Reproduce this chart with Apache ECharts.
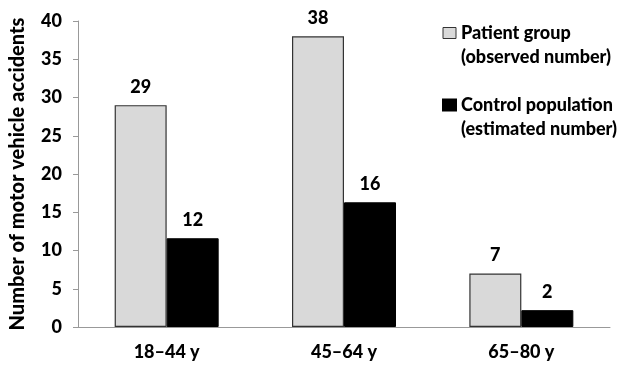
<!DOCTYPE html>
<html><head><meta charset="utf-8">
<script src="https://cdn.jsdelivr.net/npm/echarts@6/dist/echarts.min.js"></script>
<style>html,body{margin:0;padding:0;background:#fff}#c{width:631px;height:369px}</style>
</head><body><div id="c"></div>
<script>
var categories = ['18\u201344 y', '45\u201364 y', '65\u201380 y'];
var seriesNames = ['Patient group\n(observed number)', 'Control population\n(estimated number)'];
var patientValues = [29, 38, 7];
var controlValues = [11.6, 16.3, 2.2];
var yTicks = {min: 0, max: 40, interval: 5};
var FONT = 'Lato';
var W = 900;
var chart = echarts.init(document.getElementById('c'));
chart.setOption({
  animation: false,
  textStyle: {fontFamily: FONT},
  grid: {left: 75, right: 21, top: 21, bottom: 42},
  legend: {
    orient: 'vertical', left: 442, top: -3, itemGap: 0, padding: 0,
    itemWidth: 13, itemHeight: 11, icon: 'rect',
    formatter: function (name) { return '\n' + name; },
    textStyle: {fontFamily: FONT, fontWeight: W, fontSize: 18, color: '#000', lineHeight: 24},
    data: [
      {name: seriesNames[0], itemStyle: {color: '#d9d9d9', borderColor: '#333', borderWidth: 1}},
      {name: seriesNames[1], itemStyle: {color: '#000'}}
    ]
  },
  xAxis: {
    type: 'category', data: categories,
    axisLine: {lineStyle: {color: '#999', width: 1}},
    axisTick: {length: 7, lineStyle: {color: '#999'}},
    axisLabel: {color: '#000', fontWeight: W, fontSize: 18, fontFamily: FONT, margin: 16}
  },
  yAxis: {
    type: 'value', min: yTicks.min, max: yTicks.max, interval: yTicks.interval,
    name: 'Number of motor vehicle accidents', nameLocation: 'middle', nameGap: 50,
    nameTextStyle: {color: '#000', fontWeight: W, fontSize: 20, fontFamily: FONT},
    splitLine: {show: false},
    axisLine: {show: true, lineStyle: {color: '#999', width: 1}},
    axisTick: {show: true, length: 5, lineStyle: {color: '#999'}},
    axisLabel: {color: '#000', fontWeight: W, fontSize: 18, fontFamily: FONT, margin: 16}
  },
  series: [
    {name: seriesNames[0], type: 'bar', data: patientValues, barWidth: 52, barGap: '0%',
     itemStyle: {color: '#d9d9d9', borderColor: '#333', borderWidth: 1.2},
     label: {show: true, position: 'top', distance: 9, color: '#000', fontWeight: W, fontSize: 18, fontFamily: FONT,
       formatter: function (p) { return Math.round(p.value); }}},
    {name: seriesNames[1], type: 'bar', data: controlValues, barWidth: 52, barGap: '0%',
     itemStyle: {color: '#000', borderColor: '#000', borderWidth: 1},
     label: {show: true, position: 'top', distance: 9, color: '#000', fontWeight: W, fontSize: 18, fontFamily: FONT,
       formatter: function (p) { return Math.round(p.value); }}}
  ]
});
</script></body></html>
